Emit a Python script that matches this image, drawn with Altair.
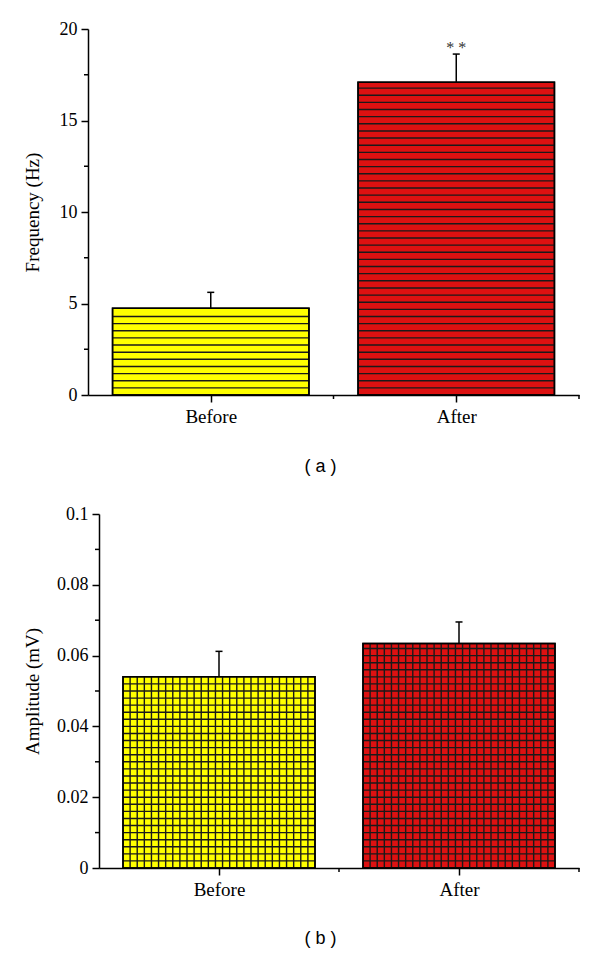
import json
import altair as alt
import pandas as pd

categories = ["Before", "After"]
positions = [0, 1]
freq_mean = [4.74, 17.09]
freq_err = [0.87, 1.54]
freq_sig = ["", "* *"]
amp_mean = [0.0540, 0.0634]
amp_err = [0.0072, 0.0061]
amp_sig = ["", ""]
bar_colors = ["#FFFF00", "#DD1111"]
freq_ticks = [0, 5, 10, 15, 20]
freq_minor = [2.5, 7.5, 12.5, 17.5]
amp_ticks = [0, 0.02, 0.04, 0.06, 0.08, 0.1]
amp_minor = [0.01, 0.03, 0.05, 0.07, 0.09]
x_minor = [0.5, 1.5]

HALF = 0.4
SERIF = "Liberation Serif"
SANS = "Liberation Sans"
LABEL_EXPR = json.dumps(categories) + "[round(datum.value)]"


def panel(mean, err, sig, ticks, minor, ytitle, caption, W, H, x0, fmt,
          hstep, vcols, title_x, cap_x, cap_y, cap_half):
    bars = pd.DataFrame({
        "cat": categories,
        "pos": positions,
        "left": [p - HALF for p in positions],
        "right": [p + HALF for p in positions],
        "base": [0, 0],
        "mean": mean,
        "top": [m + e for m, e in zip(mean, err)],
        "capl": [p - cap_half for p in positions],
        "capr": [p + cap_half for p in positions],
        "sig": sig,
    })
    xs = alt.Scale(domain=[-0.5, 1.5], nice=False, zero=False, range=[x0, W])
    ys = alt.Scale(domain=[ticks[0], ticks[-1]], nice=False, zero=True)
    xaxis = alt.Axis(values=positions, labelExpr=LABEL_EXPR, title=caption,
                     grid=False, domainColor="black", domainWidth=1.5,
                     tickColor="black", tickWidth=1.5, tickSize=7,
                     labelFont=SERIF, labelFontSize=19, labelColor="black",
                     labelPadding=5, labelAngle=0,
                     titleFont=SANS, titleFontSize=18, titleFontWeight="normal",
                     titleColor="black", titleX=cap_x, titleY=cap_y,
                     titleBaseline="middle", titleAlign="center")
    yaxis = alt.Axis(values=ticks, format=fmt, title=ytitle, grid=False,
                     offset=-x0,
                     domainColor="black", domainWidth=1.5,
                     tickColor="black", tickWidth=1.5, tickSize=7,
                     labelFont=SERIF, labelFontSize=18, labelColor="black",
                     labelPadding=4,
                     titleFont=SERIF, titleFontSize=19, titleFontWeight="normal",
                     titleColor="black", titleX=title_x, titleY=H / 2,
                     titleAngle=270, titleBaseline="middle", titleAlign="center")

    def X(f):
        return alt.X(f, scale=xs, axis=xaxis)

    def Y(f):
        return alt.Y(f, scale=ys, axis=yaxis)

    rect = alt.Chart(bars).mark_rect(stroke="black", strokeWidth=1.5).encode(
        x=X("left:Q"), x2="right:Q",
        y=Y("base:Q"), y2="mean:Q",
        fill=alt.Fill("cat:N", scale=alt.Scale(domain=categories, range=bar_colors),
                      legend=None),
    )
    rows = []
    for p, m in zip(positions, mean):
        k = 1
        while k * hstep < m - hstep * 0.3:
            rows.append(dict(x=p - HALF, x2=p + HALF, y=k * hstep, y2=k * hstep))
            k += 1
        for j in range(1, vcols):
            xx = p - HALF + j * 2 * HALF / vcols
            rows.append(dict(x=xx, x2=xx, y=0, y2=m))
    hatch = alt.Chart(pd.DataFrame(rows)).mark_rule(
        color="#1a1a1a", strokeWidth=1.4).encode(
        x=X("x:Q"), x2="x2:Q", y=Y("y:Q"), y2="y2:Q")
    outline = alt.Chart(bars).mark_rect(filled=False, stroke="black",
                                        strokeWidth=1.5).encode(
        x=X("left:Q"), x2="right:Q", y=Y("base:Q"), y2="mean:Q")
    err_rule = alt.Chart(bars).mark_rule(color="black", strokeWidth=1.5).encode(
        x=X("pos:Q"), y=Y("mean:Q"), y2="top:Q")
    cap = alt.Chart(bars).mark_rule(color="black", strokeWidth=1.5).encode(
        x=X("capl:Q"), x2="capr:Q", y=Y("top:Q"))
    txt = alt.Chart(bars).mark_text(font=SERIF, fontSize=16, baseline="alphabetic",
                                    dy=-1, color="#333333").encode(
        x=X("pos:Q"), y=Y("top:Q"), text="sig:N")
    yminor = alt.Chart(pd.DataFrame({"v": minor})).mark_rule(
        color="black", strokeWidth=1.5).encode(
        x=alt.value(x0 - 4), x2=alt.value(x0), y=Y("v:Q"))
    xminor = alt.Chart(pd.DataFrame({"v": x_minor})).mark_rule(
        color="black", strokeWidth=1.5).encode(
        x=X("v:Q"), y=alt.value(H), y2=alt.value(H + 4))
    return alt.layer(rect, hatch, outline, err_rule, cap, txt, yminor, xminor).properties(
        width=W, height=H)


W_A, H_A = 491, 366
W_B, H_B = 491, 354

pa = panel(freq_mean, freq_err, freq_sig, freq_ticks, freq_minor, "Frequency (Hz)",
           "( a )", W_A, H_A, 0, "~g", 0.39, 0, 32 - 88, 232, 71, 0.0143)
pb = panel(amp_mean, amp_err, amp_sig, amp_ticks, amp_minor, "Amplitude (mV)",
           "( b )", W_B, H_B, 11, "~g", 0.002, 27, 32 - 99, 232, 70, 0.0146)

chart = alt.concat(pa, pb, columns=1, spacing=30).configure_view(
    stroke=None).properties(
    padding={"top": 12, "left": 15, "right": 5, "bottom": 5},
    background="white")

chart.save("out.html", embed_options={"renderer": "svg", "actions": False})
